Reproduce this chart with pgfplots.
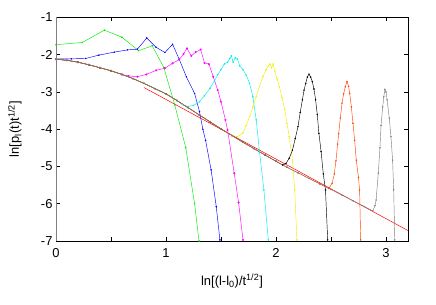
\documentclass[border=0pt]{standalone}
\usepackage{fontspec}
\setmainfont{Liberation Sans}
\usepackage{pgfplots}
\pgfplotsset{compat=1.18}
\definecolor{cgreen}{RGB}{0,235,0}
\definecolor{cblue}{RGB}{0,0,255}
\definecolor{cmag}{RGB}{255,0,255}
\definecolor{ccyan}{RGB}{0,235,235}
\definecolor{cyel}{RGB}{240,240,0}
\definecolor{corange}{RGB}{255,69,0}
\definecolor{cgray}{RGB}{128,128,128}
\definecolor{cred}{RGB}{255,0,0}
\definecolor{cbrown}{RGB}{150,100,40}
\begin{document}
\begin{tikzpicture}
\begin{axis}[
  width=352bp, height=223.5bp, scale only axis,
  xmin=0, xmax=3.2, ymin=-7, ymax=-1,
  xtick={0,0.5,1,1.5,2,2.5,3}, xticklabels={0,,1,,2,,3},
  ytick={-7,-6,-5,-4,-3,-2,-1}, yticklabels={-7,-6,-5,-4,-3,-2,-1},
  tick align=inside, major tick length=4bp,
  tick style={black, line width=0.5bp},
  axis line style={black, line width=0.6bp},
  ticklabel style={font=\fontsize{13}{15}\selectfont},
  xticklabel style={yshift=-4bp},
  label style={font=\fontsize{13}{15}\selectfont},
  xlabel={ln[(l-l\textsubscript{0})/t\textsuperscript{1/2}]},
  ylabel={ln[p\textsubscript{l}(t)t\textsuperscript{1/2}]},
  xlabel style={at={(axis description cs:0.5,-0.180)}, anchor=center},
  ylabel style={at={(axis description cs:-0.117,0.5)}, anchor=center},
  every axis plot/.append style={line width=0.45bp, mark=*, mark size=0.5bp},
  clip=true,
]
\coordinate (sw) at (rel axis cs:0,0);
\coordinate (ne) at (rel axis cs:1,1);
% power law fit
\addplot[cred, no marks, line width=0.5bp] coordinates {(0.80,-2.88) (3.2,-6.72)};
% green
\addplot[cgreen] coordinates {(0,-1.73) (0.24,-1.67) (0.44,-1.34) (0.60,-1.53) (0.75,-1.89) (0.875,-1.76) (0.98,-2.34) (1.08,-3.35) (1.18,-4.5) (1.26,-6.0) (1.30,-7.0)};
% blue
\addplot[cblue] coordinates {(0,-2.11) (0.14,-2.11) (0.27,-2.10) (0.39,-2.01) (0.53,-1.93) (0.65,-1.87) (0.74,-1.85) (0.825,-1.55) (0.91,-1.80) (0.99,-1.94) (1.06,-1.72) (1.12,-2.12) (1.185,-2.59) (1.26,-3.04) (1.305,-3.53) (1.335,-4.0) (1.36,-4.3) (1.41,-5.09) (1.457,-6.08) (1.49,-6.97) (1.50,-7.2)};
% magenta
\addplot[cmag, mark size=0.8bp] coordinates {(0,-2.12) (0.1,-2.15) (0.2,-2.20) (0.3,-2.27) (0.4,-2.35) (0.5,-2.43) (0.6,-2.53) (0.66,-2.57) (0.74,-2.59) (0.82,-2.53) (0.91,-2.42) (0.99,-2.36) (1.06,-2.23) (1.12,-2.13) (1.16,-1.98) (1.19,-1.83) (1.23,-2.03) (1.27,-1.93) (1.315,-1.86) (1.35,-2.22) (1.39,-2.25) (1.43,-2.59) (1.47,-2.95) (1.50,-3.26) (1.54,-3.75) (1.56,-4.02) (1.62,-5.18) (1.66,-5.97) (1.70,-6.97) (1.71,-7.2)};
% cyan
\addplot[ccyan] coordinates {(0,-2.12) (0.1,-2.15) (0.2,-2.20) (0.3,-2.27) (0.4,-2.35) (0.5,-2.43) (0.6,-2.53) (0.7,-2.64) (0.8,-2.77) (0.9,-2.91) (1.0,-3.05) (1.1,-3.23) (1.15,-3.34) (1.2,-3.39) (1.25,-3.36) (1.305,-3.26) (1.35,-3.1) (1.40,-2.9) (1.44,-2.7) (1.47,-2.54) (1.50,-2.4) (1.53,-2.25) (1.56,-2.2) (1.58,-2.1) (1.595,-2.03) (1.61,-2.2) (1.63,-2.08) (1.65,-2.12) (1.67,-2.3) (1.70,-2.4) (1.73,-2.55) (1.76,-2.77) (1.79,-3.13) (1.82,-3.75) (1.85,-4.6) (1.89,-5.63) (1.93,-6.97) (1.94,-7.2)};
% yellow
\addplot[cyel] coordinates {(0,-2.12) (0.1,-2.15) (0.2,-2.20) (0.3,-2.27) (0.4,-2.35) (0.5,-2.43) (0.6,-2.53) (0.7,-2.64) (0.8,-2.77) (0.9,-2.91) (1.0,-3.05) (1.1,-3.23) (1.2,-3.42) (1.3,-3.61) (1.4,-3.80) (1.5,-3.99) (1.6,-4.17) (1.65,-4.2) (1.7,-4.1) (1.73,-3.9) (1.76,-3.66) (1.79,-3.4) (1.82,-3.13) (1.85,-2.85) (1.88,-2.59) (1.91,-2.4) (1.93,-2.3) (1.945,-2.25) (1.96,-2.35) (1.975,-2.25) (1.99,-2.45) (2.01,-2.65) (2.03,-2.86) (2.055,-3.15) (2.08,-3.48) (2.10,-3.85) (2.12,-4.2) (2.15,-4.83) (2.17,-5.63) (2.19,-6.97) (2.195,-7.2)};
% black
\addplot[black] coordinates {(0,-2.12) (0.1,-2.15) (0.2,-2.20) (0.3,-2.27) (0.4,-2.35) (0.5,-2.43) (0.6,-2.53) (0.7,-2.64) (0.8,-2.77) (0.9,-2.91) (1.0,-3.05) (1.1,-3.23) (1.2,-3.42) (1.3,-3.61) (1.4,-3.80) (1.5,-3.99) (1.6,-4.17) (1.7,-4.35) (1.8,-4.52) (1.9,-4.69) (2.0,-4.86) (2.06,-4.96) (2.09,-4.92) (2.12,-4.78) (2.15,-4.56) (2.175,-4.25) (2.20,-3.93) (2.22,-3.55) (2.24,-3.21) (2.255,-2.95) (2.27,-2.77) (2.285,-2.6) (2.30,-2.52) (2.315,-2.6) (2.33,-2.72) (2.345,-2.92) (2.36,-3.21) (2.375,-3.6) (2.39,-4.11) (2.41,-4.6) (2.43,-5.2) (2.45,-5.63) (2.47,-6.97) (2.475,-7.2)};
% orange
\addplot[corange] coordinates {(0,-2.12) (0.1,-2.15) (0.2,-2.20) (0.3,-2.27) (0.4,-2.35) (0.5,-2.43) (0.6,-2.53) (0.7,-2.64) (0.8,-2.77) (0.9,-2.91) (1.0,-3.05) (1.1,-3.23) (1.2,-3.42) (1.3,-3.61) (1.4,-3.80) (1.5,-3.99) (1.6,-4.17) (1.7,-4.35) (1.8,-4.52) (1.9,-4.69) (2.0,-4.86) (2.1,-5.02) (2.2,-5.17) (2.3,-5.32) (2.4,-5.47) (2.48,-5.59) (2.51,-5.45) (2.53,-5.2) (2.545,-4.85) (2.56,-4.4) (2.57,-4.11) (2.585,-3.7) (2.60,-3.3) (2.615,-3.05) (2.63,-2.86) (2.645,-2.72) (2.66,-2.85) (2.67,-3.04) (2.685,-3.4) (2.70,-3.84) (2.715,-4.3) (2.73,-4.83) (2.75,-5.3) (2.76,-5.63) (2.77,-6.97) (2.775,-7.2)};
% gray
\addplot[cgray] coordinates {(0,-2.12) (0.1,-2.15) (0.2,-2.20) (0.3,-2.27) (0.4,-2.35) (0.5,-2.43) (0.6,-2.53) (0.7,-2.64) (0.8,-2.77) (0.9,-2.91) (1.0,-3.05) (1.1,-3.23) (1.2,-3.42) (1.3,-3.61) (1.4,-3.80) (1.5,-3.99) (1.6,-4.17) (1.7,-4.35) (1.8,-4.52) (1.9,-4.69) (2.0,-4.86) (2.1,-5.02) (2.2,-5.17) (2.3,-5.32) (2.4,-5.47) (2.5,-5.62) (2.6,-5.77) (2.7,-5.92) (2.8,-6.07) (2.88,-6.19) (2.90,-6.05) (2.91,-5.9) (2.93,-5.18) (2.945,-4.5) (2.955,-3.9) (2.97,-3.4) (2.98,-3.13) (2.99,-2.93) (3.00,-3.0) (3.01,-3.21) (3.03,-3.7) (3.045,-4.2) (3.06,-4.83) (3.07,-5.63) (3.08,-6.97) (3.085,-7.2)};
\end{axis}
\draw[cgray, line width=1bp] (sw) -- (sw |- ne);
\pgfresetboundingbox
\path ([shift={(-56bp,-64bp)}]sw) rectangle ([shift={(28bp,17.5bp)}]ne);
\end{tikzpicture}
\end{document}
